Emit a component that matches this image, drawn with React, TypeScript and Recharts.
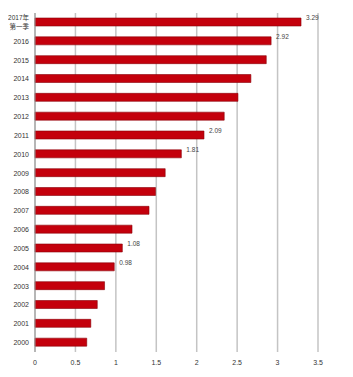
import { BarChart, Bar, XAxis, YAxis, CartesianGrid, LabelList } from "recharts";

const years = [
  "2017年第一季",
  "2016",
  "2015",
  "2014",
  "2013",
  "2012",
  "2011",
  "2010",
  "2009",
  "2008",
  "2007",
  "2006",
  "2005",
  "2004",
  "2003",
  "2002",
  "2001",
  "2000",
];
const values = [
  3.29, 2.92, 2.86, 2.67, 2.51, 2.34, 2.09, 1.81, 1.61, 1.49, 1.41, 1.2, 1.08,
  0.98, 0.86, 0.77, 0.69, 0.64,
];
const labelledYears = ["2017年第一季", "2016", "2011", "2010", "2005", "2004"];
const xTicks = [0, 0.5, 1, 1.5, 2, 2.5, 3, 3.5];

const data = years.map((year, i) => ({ year, value: values[i] }));

const FONT = '"Liberation Sans", "Noto Sans CJK SC", sans-serif';

function YearTick(props: any) {
  const { x, y, payload } = props;
  const v: string = payload.value;
  if (v.startsWith("2017")) {
    return (
      <text x={x} y={y} textAnchor="end" fontSize={6.5} fill="#333" fontFamily={FONT}>
        <tspan x={x} dy={-2}>2017年</tspan>
        <tspan x={x} dy={9}>第一季</tspan>
      </text>
    );
  }
  return (
    <text x={x} y={y} dy={2.5} textAnchor="end" fontSize={7} fill="#333" fontFamily={FONT}>
      {v}
    </text>
  );
}

function ValueLabel(props: any) {
  const { x, y, width, height, index } = props;
  if (!labelledYears.includes(years[index])) return null;
  return (
    <text
      x={x + width + 5}
      y={y + height / 2 - 2}
      fontSize={6.5}
      fill="#444"
      fontFamily={FONT}
    >
      {values[index].toFixed(2)}
    </text>
  );
}

export default function App() {
  return (
    <div style={{ margin: -8, width: 353, height: 377, background: "#fff" }}>
      <BarChart
        width={353}
        height={377}
        data={data}
        layout="vertical"
        margin={{ top: 13, right: 35, bottom: 5, left: 0 }}
        barCategoryGap={0}
      >
        <CartesianGrid horizontal={false} stroke="#c4c4c4" strokeWidth={1.5} />
        <XAxis
          type="number"
          domain={[0, 3.5]}
          ticks={xTicks}
          axisLine={false}
          tickLine={false}
          height={20}
          tickMargin={2}
          tick={{ fontSize: 7, fill: "#333", fontFamily: FONT }}
        />
        <YAxis
          type="category"
          dataKey="year"
          width={35}
          axisLine={{ stroke: "#999" }}
          tickLine={false}
          tickSize={4}
          tickMargin={2}
          interval={0}
          tick={<YearTick />}
        />
        <Bar
          dataKey="value"
          fill="#c4000c"
          stroke="#8a0008"
          strokeWidth={0.6}
          barSize={8}
          isAnimationActive={false}
        >
          <LabelList dataKey="value" content={<ValueLabel />} />
        </Bar>
      </BarChart>
    </div>
  );
}
